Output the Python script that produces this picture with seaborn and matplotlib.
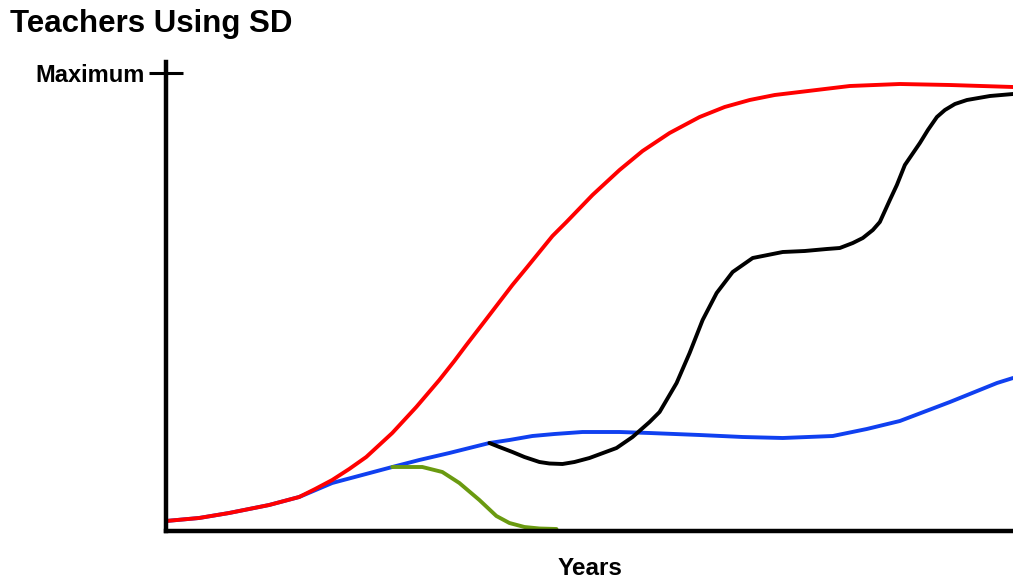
import numpy as np
import pandas as pd
import matplotlib
matplotlib.use("Agg")
import matplotlib.pyplot as plt
import seaborn as sns

# 値は図から読み取った概略値（x: 年, y: 利用教師数, 最大 = 458）
red_x = [0, 33, 63, 103, 118, 133, 149, 166, 183, 200, 213, 226, 250, 273, 288, 300, 320, 346, 360, 373,
         386, 400, 426, 453, 476, 503, 533, 558, 583, 608, 633, 658, 683, 733, 783, 846]
red_y = [10, 13, 18, 26, 30, 34, 42, 51, 62, 74, 86, 98, 124, 151, 170, 186, 212, 246, 263, 279,
         295, 309, 336, 361, 380, 398, 414, 424, 431, 436, 439, 442, 445, 447, 446, 444]

blue_x = [0, 33, 63, 103, 133, 166, 196, 226, 253, 283, 303, 323, 343, 366, 388, 416, 453, 483, 533, 576,
          616, 666, 700, 733, 783, 830, 846]
blue_y = [10, 13, 18, 26, 34, 48, 56, 64, 71, 78, 83, 88, 91, 95, 97, 99, 99, 98, 96, 94,
          93, 95, 102, 110, 129, 148, 153]

green_x = [226, 256, 276, 293, 313, 330, 343, 358, 373, 390]
green_y = [64, 64, 59, 48, 31, 15, 8, 4, 2.5, 2]

black_x = [323, 333, 346, 358, 373, 383, 396, 408, 423, 450, 466, 483, 493, 510, 523, 536, 550, 566, 586,
           616, 638, 660, 673, 686, 696, 706, 713, 723, 730, 738, 753, 761, 770, 778, 788, 800, 823, 846]
black_y = [88, 84, 79, 74, 69, 67.5, 67, 69, 73, 83, 94, 109, 119, 148, 178, 211, 238, 259, 273,
           279, 280, 282, 283, 288, 293, 301, 309, 331, 346, 366, 388, 401, 414, 421, 427, 431, 435, 437]

max_level = 458

sns.set_theme(style="white")
plt.rcParams['font.family'] = ['Liberation Sans', 'DejaVu Sans']

fig = plt.figure(figsize=(10.13, 5.79), dpi=100)
ax = fig.add_axes([166 / 1013, 1 - 531 / 579, 1 - 166 / 1013, 469 / 579])

# 描画順: 青の上に赤、黒と緑は青の上
series = [
    (blue_x, blue_y, "#1040f0"),
    (red_x, red_y, "#ff0000"),
    (green_x, green_y, "#6a9a10"),
    (black_x, black_y, "#000000"),
]
for xs, ys, col in series:
    d = pd.DataFrame({"x": xs, "y": ys})
    sns.lineplot(data=d, x="x", y="y", ax=ax, color=col, linewidth=2.8,
                 clip_on=False, solid_joinstyle="round", solid_capstyle="round")

ax.set_xlim(0, 846)
ax.set_ylim(0, 469)

for s in ["top", "right"]:
    ax.spines[s].set_visible(False)
for s in ["left", "bottom"]:
    ax.spines[s].set_linewidth(3.2)
    ax.spines[s].set_color("black")

ax.set_xticks([])
ax.set_yticks([max_level])
ax.set_yticklabels(["Maximum"], fontsize=17, fontweight="bold", color="black")
ax.tick_params(axis="y", direction="inout", length=24, width=2.2, pad=3, left=True, colors="black")

ax.set_xlabel("Years", fontsize=17.5, fontweight="bold", labelpad=19, color="black")
ax.set_ylabel("")

fig.text(10 / 1013, 1 - 24 / 579, "Teachers Using SD", fontsize=22.5, fontweight="bold",
         color="black", va="center", ha="left")

fig.savefig("out.png", dpi=100)
